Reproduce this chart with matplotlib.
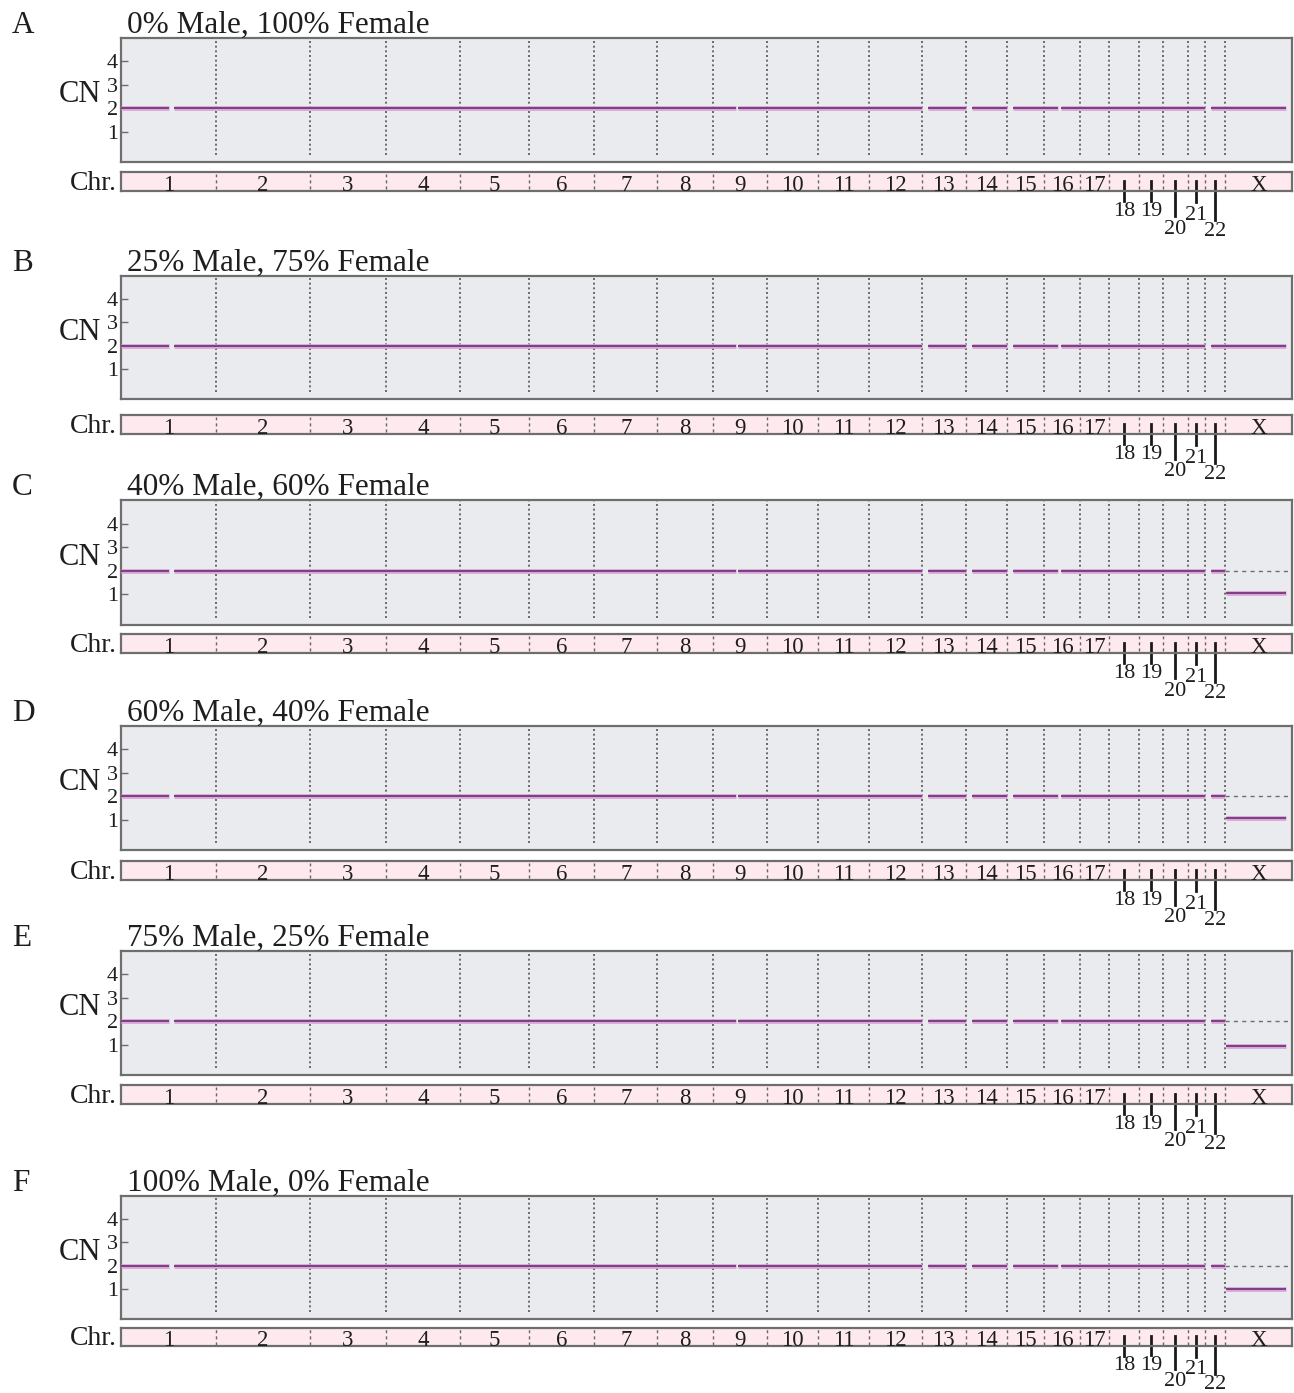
import matplotlib
matplotlib.use("Agg")
import matplotlib.pyplot as plt
import matplotlib.transforms as mtransforms
import numpy as np

# chromosome names and relative widths (Mb-like units)
chrom_names = [str(i) for i in range(1, 23)] + ["X"]
chrom_sizes = [250, 247, 200, 195, 182, 171, 166, 147, 142, 134, 134, 139,
               116, 108, 97, 95, 76, 79, 63, 66, 45, 53, 176]

# regions without a CN call (centromeres / acrocentric p-arms), local units
gap_chrom = ["1", "9", "13", "14", "15", "16", "22", "X"]
gap_from = [126, 59, 0, 0, 0, 38, 0, 160]
gap_to = [139, 66, 16, 15, 17, 46, 15, 176]

panel_letters = ["A", "B", "C", "D", "E", "F"]
panel_titles = ["0% Male, 100% Female", "25% Male, 75% Female",
                "40% Male, 60% Female", "60% Male, 40% Female",
                "75% Male, 25% Female", "100% Male, 0% Female"]
autosome_cn = [2.0, 2.0, 2.0, 2.0, 2.0, 2.0]
x_cn = [2.0, 2.0, 1.05, 1.05, 0.95, 1.0]

small_chroms = ["18", "19", "20", "21", "22"]

W, H = 1294, 1393
# layout in pixels: (axes top, axes bottom, bar top, bar bottom)
layout = [(38, 162, 172, 191),
          (276, 399, 415, 434),
          (500, 625, 634, 653),
          (726, 850, 861, 880),
          (951, 1075, 1085, 1104),
          (1196, 1319, 1328, 1346)]
LEFT, RIGHT = 121, 1292

FONT = ["Liberation Serif", "DejaVu Serif"]
plt.rcParams["font.family"] = FONT
TXT = "#1e1e1e"
SPINE = "#6e6e6e"
BG = "#e9ebee"
BAR = "#fde9ee"
LINE = "#7e3f82"
HALO = "#d7a6d6"

sizes = np.array(chrom_sizes, dtype=float)
starts = np.concatenate([[0], np.cumsum(sizes)[:-1]])
ends = starts + sizes
centers = (starts + ends) / 2
total = ends[-1]


def fx(px):
    return px / W


def fy(py):
    return 1 - py / H


def covered_segments(name):
    i = chrom_names.index(name)
    if name in gap_chrom:
        j = gap_chrom.index(name)
        segs = [(0, gap_from[j]), (gap_to[j], chrom_sizes[i])]
    else:
        segs = [(0, chrom_sizes[i])]
    return [(starts[i] + a, starts[i] + b) for a, b in segs if b - a > 0]


fig = plt.figure(figsize=(W / 100, H / 100), dpi=100)

for k, (top, bot, btop, bbot) in enumerate(layout):
    ax = fig.add_axes([fx(LEFT), fy(bot), fx(RIGHT - LEFT), (bot - top) / H])
    ax.set_facecolor(BG)
    ax.set_xlim(0, total)
    ax.set_ylim(-0.3, 5)
    for s in ax.spines.values():
        s.set_color(SPINE)
        s.set_linewidth(1.6)
    ax.set_xticks([])
    ax.set_yticks([1, 2, 3, 4])
    ax.tick_params(axis="y", direction="in", length=5, width=1, color=SPINE,
                   pad=2, labelsize=16, labelcolor=TXT)

    for b in ends[:-1]:
        ax.plot([b, b], [0, 5], color="#555555", lw=1.2,
                linestyle=(0, (1.2, 1.6)), zorder=2)

    for name in chrom_names:
        cn = x_cn[k] if name == "X" else autosome_cn[k]
        for a, b in covered_segments(name):
            if name == "X" and cn != 2.0:
                ax.plot([a, total], [2, 2], color="#707070", lw=1.0,
                        linestyle=(0, (3, 3)), zorder=3)
                a = a + 2
            ax.plot([a, b], [cn, cn], color=HALO, lw=3.4,
                    solid_capstyle="butt", zorder=4)
            ax.plot([a, b], [cn, cn], color=LINE, lw=1.4,
                    solid_capstyle="butt", zorder=5)

    trans = mtransforms.blended_transform_factory(fig.transFigure, ax.transData)
    ax.text(fx(101), 2.25, "CN", transform=trans, ha="right", va="baseline",
            fontsize=22, color=TXT)

    baseline = top - 5
    fig.text(fx(12), fy(baseline), panel_letters[k], fontsize=22.5,
             va="baseline", ha="left", color=TXT)
    fig.text(fx(127), fy(baseline), panel_titles[k], fontsize=22.5,
             va="baseline", ha="left", color=TXT)

    # chromosome bar
    bx = fig.add_axes([fx(LEFT), fy(bbot), fx(RIGHT - LEFT), (bbot - btop) / H])
    bx.set_facecolor(BAR)
    bx.set_xlim(0, total)
    bx.set_ylim(0, 1)
    bx.set_xticks([])
    bx.set_yticks([])
    for s in bx.spines.values():
        s.set_color(SPINE)
        s.set_linewidth(1.6)
    for b in ends[:-1]:
        bx.plot([b, b], [0.08, 0.92], color="#666666", lw=1.0,
                linestyle=(0, (2.2, 2.2)))
    for name, c in zip(chrom_names, centers):
        if name in small_chroms:
            continue
        bx.text(c, -0.02, name, ha="center", va="baseline", fontsize=16.5,
                color=TXT, clip_on=False)
    # drop lines for the small chromosomes
    drop = {"18": (-0.55, -1.1), "19": (-0.5, -1.1), "20": (-1.3, -2.0),
            "21": (-0.6, -1.3), "22": (-1.55, -2.15)}
    for name in small_chroms:
        c = centers[chrom_names.index(name)]
        y_end, y_lab = drop[name]
        bx.plot([c, c], [0.55, y_end], color="#1a1a1a", lw=2.0, clip_on=False)
        bx.text(c, y_lab, name, ha="center", va="center", fontsize=16,
                color=TXT, clip_on=False)
    fig.text(fx(117), fy(bbot - 1), "Chr.", ha="right", va="baseline",
             fontsize=20, color=TXT)

fig.savefig("out.png", dpi=100)
